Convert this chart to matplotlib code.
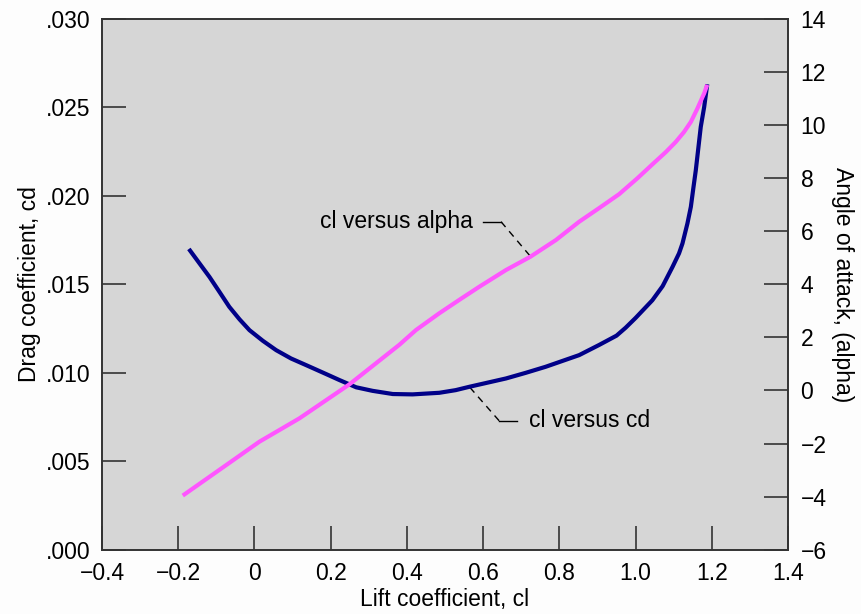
import matplotlib.pyplot as plt

plt.rcParams['font.family'] = ['Liberation Sans', 'DejaVu Sans']

# cl versus cd (left axis)
cl_cd = [-0.172, -0.144, -0.118, -0.092, -0.066, -0.039, -0.013, 0.022,
         0.057, 0.096, 0.135, 0.188, 0.223, 0.267, 0.310, 0.363, 0.415,
         0.485, 0.528, 0.564, 0.660, 0.712, 0.764, 0.852, 0.904, 0.950,
         0.974, 1.000, 1.044, 1.071, 1.097, 1.114, 1.123, 1.136, 1.145,
         1.152, 1.158, 1.165, 1.171, 1.180, 1.188]
cd = [0.0170, 0.01618, 0.01542, 0.01458, 0.01373, 0.01302, 0.01241, 0.01181,
      0.01128, 0.01081, 0.01044, 0.00993, 0.00959, 0.00918, 0.00898, 0.00880,
      0.00878, 0.00887, 0.00902, 0.00921, 0.00968, 0.0100, 0.01034, 0.0110,
      0.01157, 0.0121, 0.01255, 0.0131, 0.0141, 0.0149, 0.01599, 0.01675,
      0.01731, 0.01844, 0.01938, 0.02051, 0.02145, 0.02277, 0.0239, 0.02503,
      0.02631]

# cl versus alpha (right axis)
cl_alpha = [-0.188, -0.074, 0.013, 0.118, 0.249, 0.380, 0.424, 0.485, 0.537,
            0.590, 0.660, 0.724, 0.791, 0.852, 0.904, 0.957, 1.005, 1.044,
            1.079, 1.105, 1.127, 1.145, 1.162, 1.180, 1.188]
alpha = [-3.96, -2.81, -1.93, -1.05, 0.23, 1.72, 2.28, 2.91, 3.41, 3.91, 4.54,
         5.04, 5.67, 6.36, 6.87, 7.40, 8.0, 8.52, 8.98, 9.36, 9.74, 10.12,
         10.62, 11.2, 11.52]

x_ticks = [-0.4, -0.2, 0, 0.2, 0.4, 0.6, 0.8, 1.0, 1.2, 1.4]
x_labels = ['\u22120.4', '\u22120.2', '0', '0.2', '0.4', '0.6', '0.8', '1.0', '1.2', '1.4']
cd_ticks = [0.0, 0.005, 0.010, 0.015, 0.020, 0.025, 0.030]
cd_labels = ['.000', '.005', '.010', '.015', '.020', '.025', '.030']
alpha_ticks = [-6, -4, -2, 0, 2, 4, 6, 8, 10, 12, 14]
alpha_labels = [str(v).replace('-', '\u2212') for v in alpha_ticks]

fs = 16.5

fig = plt.figure(figsize=(8.62, 6.14), dpi=100, facecolor='#fdfdfd')
ax = fig.add_axes([0.1183, 0.1047, 0.7959, 0.8644])
ax.set_facecolor('#d6d6d6')
ax2 = ax.twinx()

ax.plot(cl_cd, cd, color='#000088', lw=3, solid_capstyle='butt',
        solid_joinstyle='round', zorder=3)
ax2.plot(cl_alpha, alpha, color='#ff55ff', lw=3, solid_capstyle='butt',
         solid_joinstyle='round', zorder=3)

ax.set_xlim(-0.4, 1.4)
ax.set_ylim(0, 0.030)
ax2.set_ylim(-6, 14)

ax.set_xticks(x_ticks, x_labels)
ax.set_yticks(cd_ticks, cd_labels)
ax2.set_yticks(alpha_ticks, alpha_labels)

edge = '#333333'
for a in (ax, ax2):
    for s in a.spines.values():
        s.set_color(edge)
        s.set_linewidth(1.2)
ax.tick_params(axis='both', direction='in', length=17, width=1.2, color=edge,
               labelsize=fs, pad=8, right=False, top=False)
ax.tick_params(axis='x', pad=9)
ax2.tick_params(axis='y', direction='in', length=17, width=1.2, color=edge,
                labelsize=fs, pad=9)

ax.set_xlabel('Lift coefficient, cl', fontsize=fs, labelpad=2)
ax.set_ylabel('Drag coefficient, cd', fontsize=fs, labelpad=4)
ax2.set_ylabel('Angle of attack, (alpha)', fontsize=fs, rotation=270, labelpad=20)

# callout labels with leader lines
ax2.text(0.572, 6.36, 'cl versus alpha', fontsize=fs, ha='right', va='center')
ax2.plot([0.600, 0.647], [6.36, 6.36], color='black', lw=1)
ax2.plot([0.647, 0.725], [6.36, 5.04], color='black', lw=1, ls=(0, (5, 4)))

ax.text(0.721, 0.00729, 'cl versus cd', fontsize=fs, ha='left', va='center')
ax.plot([0.642, 0.690], [0.00729, 0.00729], color='black', lw=1)
ax.plot([0.642, 0.565], [0.00729, 0.00918], color='black', lw=1, ls=(0, (5, 4)))

plt.savefig('out.png', dpi=100, facecolor=fig.get_facecolor())
